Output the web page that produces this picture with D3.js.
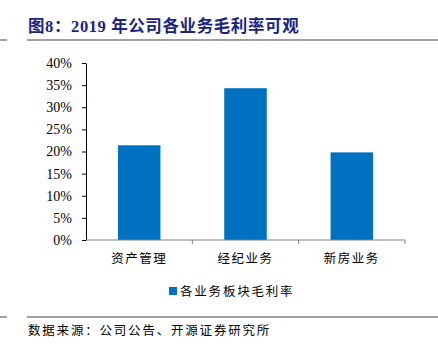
<!DOCTYPE html>
<html>
<head>
<meta charset="utf-8">
<script src="https://cdn.jsdelivr.net/npm/d3@7"></script>
<style>
  body { margin: 0; background: #fff; }
  svg { display: block; }
</style>
</head>
<body>
<div id="chart"></div>
<script>
// data
const categories = ["资产管理", "经纪业务", "新房业务"];
const margins = [21.4, 34.3, 19.8];
const yTicks = [0, 5, 10, 15, 20, 25, 30, 35, 40];
const seriesName = "各业务板块毛利率";
const titleText = "图8：2019 年公司各业务毛利率可观";
const sourceText = "数据来源：公司公告、开源证券研究所";

const W = 438, H = 354;
const plot = {left: 86, right: 405, top: 63, bottom: 240};
const cjk = "'Noto Sans CJK SC', sans-serif";
const serif = "'Liberation Serif', 'Times New Roman', serif";

const svg = d3.select("#chart").append("svg")
    .attr("width", W)
    .attr("height", H);

// title + rules
svg.append("text")
    .attr("x", 28).attr("y", 32)
    .attr("font-family", serif + ", " + cjk)
    .attr("font-weight", "bold")
    .attr("font-size", 16.5)
    .attr("letter-spacing", 0.6)
    .attr("fill", "#1a237e")
    .text(titleText);

[40, 317].forEach(y => {
    svg.append("line").attr("x1", 0).attr("x2", 7).attr("y1", y).attr("y2", y)
        .attr("stroke", "#808080").attr("stroke-width", 1.5);
    svg.append("line").attr("x1", 27).attr("x2", W).attr("y1", y).attr("y2", y)
        .attr("stroke", "#808080").attr("stroke-width", 1.5);
});

const x = d3.scaleBand()
    .domain(categories)
    .range([plot.left, plot.right])
    .paddingInner(0.6)
    .paddingOuter(0.3);

const y = d3.scaleLinear()
    .domain([0, 40])
    .range([plot.bottom, plot.top]);

// bars
svg.selectAll(".bar")
    .data(margins)
    .enter().append("rect")
    .attr("class", "bar")
    .attr("x", (d, i) => x(categories[i]))
    .attr("width", x.bandwidth())
    .attr("y", d => y(d))
    .attr("height", d => y(0) - y(d))
    .attr("fill", "#0070c0");

// y axis
const yAxis = svg.append("g")
    .attr("transform", `translate(${plot.left},0)`)
    .call(d3.axisLeft(y).tickValues(yTicks).tickFormat(d => d + "%").tickSize(4).tickSizeOuter(0));
yAxis.select(".domain").attr("stroke", "#000");
yAxis.selectAll(".tick line").attr("stroke", "#000");
yAxis.selectAll(".tick text")
    .attr("font-family", serif)
    .attr("font-size", 14)
    .attr("fill", "#000")
    .attr("x", -14);

// x axis (ticks on category boundaries)
const bandStep = (plot.right - plot.left) / categories.length;
const xg = svg.append("g").attr("transform", `translate(0,${plot.bottom})`);
xg.append("line")
    .attr("x1", plot.left).attr("x2", plot.right)
    .attr("stroke", "#808080").attr("stroke-width", 1);
d3.range(1, categories.length + 1).forEach(i => {
    const px = plot.left + bandStep * i;
    xg.append("line").attr("x1", px).attr("x2", px).attr("y1", 0).attr("y2", 4)
        .attr("stroke", "#808080");
});
xg.selectAll(".cat")
    .data(categories)
    .enter().append("text")
    .attr("class", "cat")
    .attr("x", d => x(d) + x.bandwidth() / 2)
    .attr("y", 23)
    .attr("text-anchor", "middle")
    .attr("font-family", cjk)
    .attr("font-size", 12.5)
    .attr("letter-spacing", 1.5)
    .attr("fill", "#000")
    .text(d => d);

// legend
svg.append("rect")
    .attr("x", 169).attr("y", 287)
    .attr("width", 8).attr("height", 8)
    .attr("fill", "#0070c0");
svg.append("text")
    .attr("x", 180).attr("y", 295.5)
    .attr("font-family", cjk)
    .attr("font-size", 12.5)
    .attr("letter-spacing", 1.8)
    .attr("fill", "#000")
    .text(seriesName);

// source
svg.append("text")
    .attr("x", 28).attr("y", 335)
    .attr("font-family", cjk)
    .attr("font-size", 12.5)
    .attr("letter-spacing", 1.8)
    .attr("fill", "#000")
    .text(sourceText);
</script>
</body>
</html>
